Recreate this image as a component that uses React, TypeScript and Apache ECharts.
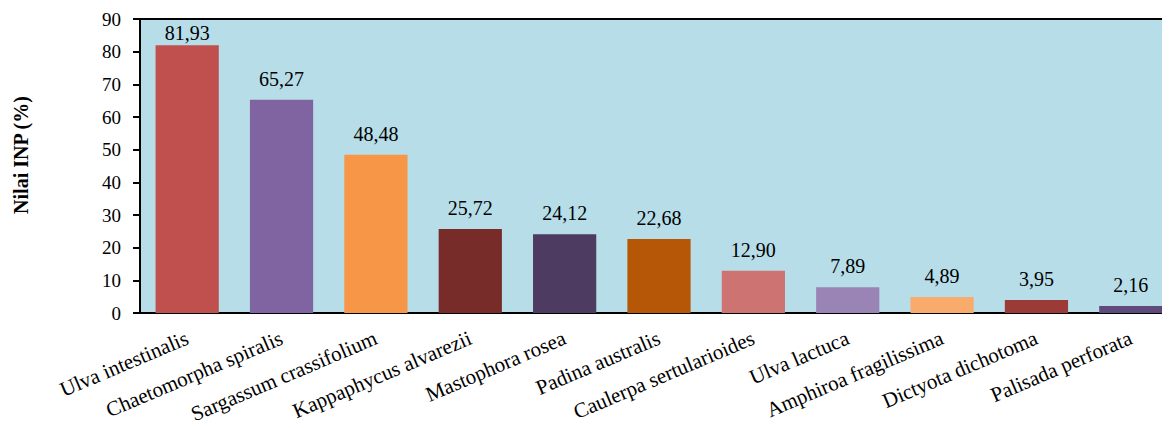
import React, { useEffect, useRef } from "react";
import * as echarts from "echarts";

// Species names along the x axis
const species = [
  "Ulva intestinalis",
  "Chaetomorpha spiralis",
  "Sargassum crassifolium",
  "Kappaphycus alvarezii",
  "Mastophora rosea",
  "Padina australis",
  "Caulerpa sertularioides",
  "Ulva lactuca",
  "Amphiroa fragilissima",
  "Dictyota dichotoma",
  "Palisada perforata",
];

// Importance value index (INP, %) per species
const inpValues = [81.93, 65.27, 48.48, 25.72, 24.12, 22.68, 12.9, 7.89, 4.89, 3.95, 2.16];

// One fill per bar
const barColors = [
  "#C0504D",
  "#8064A2",
  "#F79646",
  "#772C2A",
  "#4D3B62",
  "#B65708",
  "#CD7371",
  "#9A84B5",
  "#F9AB6B",
  "#9B3A37",
  "#5F4A7B",
];

const yAxisTitle = "Nilai INP (%)";
const serif = "'Liberation Serif', 'Times New Roman', serif";

export default function App() {
  const ref = useRef<HTMLDivElement>(null);

  useEffect(() => {
    if (!ref.current) return;
    const chart = echarts.init(ref.current, null, { renderer: "svg" });
    chart.setOption({
      animation: false,
      textStyle: { fontFamily: serif },
      // the plot box runs past the right edge of the visible frame
      grid: {
        left: 140,
        top: 19,
        right: 0,
        bottom: 115,
        outerBoundsMode: "none",
        show: true,
        backgroundColor: "#B7DDE8",
        borderColor: "#000",
        borderWidth: 2,
      },
      graphic: [
        {
          type: "text",
          x: 21,
          y: 155,
          rotation: Math.PI / 2,
          style: {
            text: yAxisTitle,
            font: `bold 20px ${serif}`,
            fill: "#000",
            align: "center",
            verticalAlign: "middle",
          },
        },
      ],
      xAxis: {
        type: "category",
        data: species,
        axisLine: { show: true, lineStyle: { color: "#000", width: 2 } },
        axisTick: { show: false },
        axisLabel: {
          rotate: 23,
          interval: 0,
          margin: 24,
          color: "#000",
          fontSize: 21,
          fontFamily: serif,
        },
      },
      yAxis: {
        type: "value",
        min: 0,
        max: 90,
        interval: 10,
        splitLine: { show: false },
        axisLine: { show: true, lineStyle: { color: "#000", width: 2 } },
        axisTick: { show: true, length: 7, lineStyle: { color: "#000", width: 2 } },
        axisLabel: {
          margin: 19,
          color: "#000",
          fontSize: 19,
          fontFamily: serif,
        },
      },
      series: [
        {
          type: "bar",
          barCategoryGap: "33%",
          data: inpValues.map((v, i) => ({
            value: v,
            itemStyle: { color: barColors[i] },
            // the tallest bar's label sits tight under the top border
            label: { distance: i === 0 ? 2 : 11 },
          })),
          label: {
            show: true,
            position: "top",
            color: "#000",
            fontSize: 20,
            fontFamily: serif,
            formatter: (p: any) => Number(p.value).toFixed(2).replace(".", ","),
          },
        },
      ],
    });
    return () => chart.dispose();
  }, []);

  return (
    <div style={{ width: 1170, height: 428, margin: -8, overflow: "hidden" }}>
      <div ref={ref} style={{ width: 1178, height: 428 }} />
    </div>
  );
}
